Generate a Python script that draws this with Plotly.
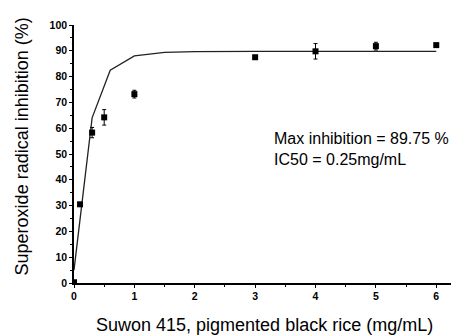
import plotly.graph_objects as go

conc = [0, 0.1, 0.3, 0.5, 1, 3, 4, 5, 6]
inhibition = [0.3, 30.5, 58.3, 64.2, 73.2, 87.5, 89.8, 91.8, 92.2]
err = [0.3, 0.6, 2.0, 3.0, 1.5, 0.5, 3.0, 1.5, 0.5]

fit_x = [0, 0.3, 0.6, 1.0, 1.5, 2, 3, 4, 5, 6]
fit_y = [5.0, 64.0, 82.5, 88.0, 89.4, 89.7, 89.75, 89.75, 89.75, 89.75]

x_ticks = [0, 1, 2, 3, 4, 5, 6]
y_ticks = [0, 10, 20, 30, 40, 50, 60, 70, 80, 90, 100]

FONT = "Liberation Sans, Arial, sans-serif"

fig = go.Figure()
fig.add_trace(go.Scatter(x=fit_x, y=fit_y, mode="lines",
                         line=dict(color="#222", width=1.3), showlegend=False))
fig.add_trace(go.Scatter(x=conc, y=inhibition, mode="markers",
                         marker=dict(symbol="square", size=6, color="black"),
                         error_y=dict(type="data", array=err, color="black",
                                      thickness=1, width=2),
                         showlegend=False))

axis_common = dict(showline=True, linecolor="black", linewidth=1.5,
                   ticks="outside", ticklen=3, tickwidth=1.2, tickcolor="black",
                   showgrid=False, zeroline=False,
                   tickfont=dict(family=FONT, size=10.5, color="black", weight="bold"))

fig.update_xaxes(range=[0, 6.36], tickvals=x_ticks,
                 minor=dict(ticks="outside", ticklen=2, tickwidth=1, tickcolor="black", dtick=0.5, tick0=0),
                 **axis_common)
fig.update_yaxes(range=[0, 100], tickvals=y_ticks,
                 minor=dict(ticks="outside", ticklen=2, tickwidth=1, tickcolor="black", dtick=5, tick0=0),
                 **axis_common)

fig.add_annotation(text="Superoxide radical inhibition (%)", xref="paper", yref="paper",
                   x=-0.135, y=0.53, textangle=-90, showarrow=False,
                   font=dict(family=FONT, size=18, color="black"), xanchor="center", yanchor="middle")
fig.add_annotation(text="Suwon 415, pigmented black rice (mg/mL)", xref="paper", yref="paper",
                   x=0.496, y=-0.163, showarrow=False,
                   font=dict(family=FONT, size=18, color="black"), xanchor="center", yanchor="middle")
fig.add_annotation(text="Max inhibition = 89.75 %<br>IC50 = 0.25mg/mL", xref="paper", yref="paper",
                   x=0.516, y=0.6, showarrow=False, align="left",
                   font=dict(family=FONT, size=16, color="black"), xanchor="left", yanchor="top")

fig.update_layout(width=451, height=327, margin=dict(l=66, r=1, t=17, b=52),
                  plot_bgcolor="white", paper_bgcolor="white")
fig.write_html("out.html")
